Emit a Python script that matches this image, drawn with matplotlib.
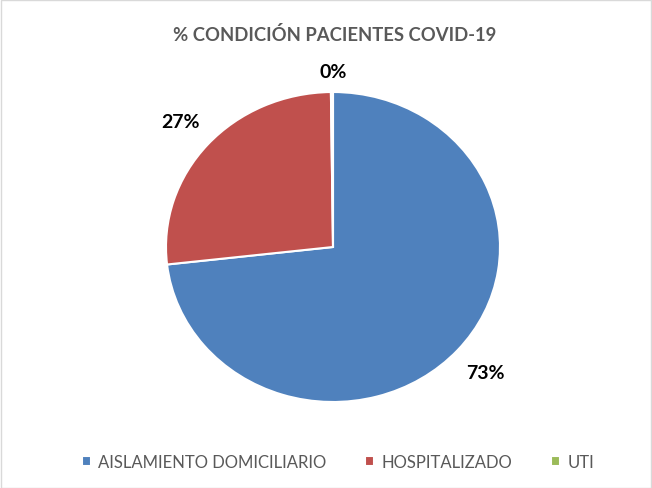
import matplotlib
matplotlib.use("Agg")
import matplotlib.pyplot as plt
from matplotlib.patches import Rectangle

# datos
categorias = ["AISLAMIENTO DOMICILIARIO", "HOSPITALIZADO", "UTI"]
valores = [73.2, 26.6, 0.2]
colores = ["#4F81BD", "#C0504D", "#9BBB59"]
titulo = "% CONDICIÓN PACIENTES COVID-19"

plt.rcParams['font.family'] = ['Lato', 'DejaVu Sans']

fig = plt.figure(figsize=(6.52, 4.89), dpi=100)
fig.patches.append(Rectangle((0.5 / 652, 0.5 / 489), 1 - 1.5 / 652, 1 - 1.5 / 489,
                             transform=fig.transFigure, fill=False,
                             edgecolor="#D9D9D9", linewidth=1))

# la torta de referencia esta algo estirada: radio 167 px en x, 155 px en y
cx, cy, rx, ry = 333, 248, 167, 155
ax = fig.add_axes([(cx - 1.2 * rx) / 652, (489 - cy - 1.2 * ry) / 489,
                   2.4 * rx / 652, 2.4 * ry / 489])
wedges, txt, autotxt = ax.pie(valores, colors=colores, startangle=90, counterclock=False,
                              autopct="%.0f%%", pctdistance=1.22, radius=1,
                              wedgeprops=dict(edgecolor="white", linewidth=1.5),
                              textprops=dict(fontsize=14, fontweight="bold", color="black"))
ax.set_xlim(-1.2, 1.2)
ax.set_ylim(-1.2, 1.2)
ax.set_aspect("auto")
# etiqueta 0% justo arriba
autotxt[2].set_position((0, 1.135))

fig.text(0.513, 1 - 35 / 489, titulo, ha="center", va="center", fontsize=13.3,
         fontweight="bold", color="#595959")

fig.legend(wedges, categorias, loc="center", bbox_to_anchor=(0.518, 1 - 463 / 489),
           ncol=3, frameon=False, fontsize=12, handlelength=0.55, handleheight=0.55,
           handletextpad=0.45, columnspacing=2.3, labelcolor="#595959")

fig.savefig("out.png", dpi=100)
